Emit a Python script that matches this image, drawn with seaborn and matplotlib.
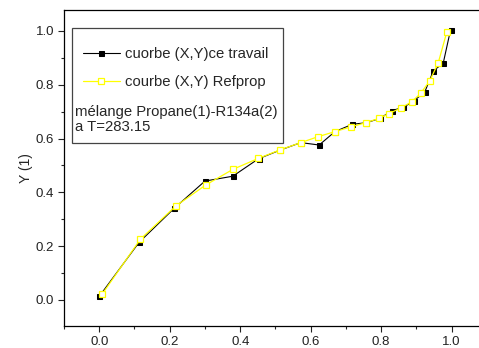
import pandas as pd
import matplotlib
matplotlib.use("Agg")
import matplotlib.pyplot as plt
import seaborn as sns
from matplotlib.ticker import MultipleLocator
from matplotlib.patches import Rectangle

# Data
x_travail = [0.0, 0.113, 0.213, 0.300, 0.379, 0.452, 0.513, 0.572, 0.624, 0.669,
             0.718, 0.758, 0.797, 0.830, 0.863, 0.893, 0.924, 0.948, 0.976, 0.997]
y_travail = [0.013, 0.214, 0.341, 0.442, 0.460, 0.525, 0.557, 0.585, 0.576, 0.626,
             0.653, 0.659, 0.675, 0.704, 0.716, 0.740, 0.774, 0.852, 0.880, 1.005]

x_refprop = [0.008, 0.117, 0.217, 0.303, 0.380, 0.451, 0.513, 0.572, 0.621, 0.669,
             0.713, 0.756, 0.794, 0.822, 0.855, 0.887, 0.912, 0.938, 0.962, 0.986]
y_refprop = [0.021, 0.226, 0.349, 0.428, 0.486, 0.526, 0.558, 0.585, 0.607, 0.626,
             0.643, 0.659, 0.675, 0.693, 0.713, 0.737, 0.768, 0.815, 0.882, 0.995]

label_travail = "cuorbe (X,Y)ce travail"
label_refprop = "courbe (X,Y) Refprop"
note = "mélange Propane(1)-R134a(2)\na T=283.15"

df_t = pd.DataFrame({"x": x_travail, "y": y_travail})
df_r = pd.DataFrame({"x": x_refprop, "y": y_refprop})

sns.set_style("ticks")
plt.rcParams["font.family"] = ["Liberation Sans", "DejaVu Sans"]

fig = plt.figure(figsize=(4.79, 3.48), dpi=100)
ax = fig.add_axes([0.1336, 0.0632, 0.8829, 0.908])

sns.lineplot(data=df_t, x="x", y="y", sort=False, ax=ax, color="black",
             linewidth=0.8, marker="s", markersize=3.6, markerfacecolor="black",
             markeredgecolor="black", label=label_travail)
sns.lineplot(data=df_r, x="x", y="y", sort=False, ax=ax, color="#ffff00",
             linewidth=0.9, marker="s", markersize=3.8, markerfacecolor="white",
             markeredgecolor="#ffff00", markeredgewidth=0.9, label=label_refprop)

ax.set_xlim(-0.1, 1.1)
ax.set_ylim(-0.097, 1.078)
ax.xaxis.set_major_locator(MultipleLocator(0.2))
ax.xaxis.set_minor_locator(MultipleLocator(0.1))
ax.yaxis.set_major_locator(MultipleLocator(0.2))
ax.yaxis.set_minor_locator(MultipleLocator(0.1))
ax.xaxis.set_major_formatter(plt.FormatStrFormatter("%.1f"))
ax.yaxis.set_major_formatter(plt.FormatStrFormatter("%.1f"))
ax.tick_params(which="major", direction="out", length=4, width=0.8, labelsize=9.5,
               colors="#222222", pad=3)
ax.tick_params(which="minor", direction="out", length=2.5, width=0.8)
ax.tick_params(axis="x", pad=3)
for sp in ax.spines.values():
    sp.set_visible(True)
    sp.set_linewidth(0.9)
    sp.set_color("black")

ax.set_xlabel("")
ax.set_ylabel("Y (1)", fontsize=10, labelpad=2)

# Legend box with note
ax.add_patch(Rectangle((0.018, 0.580), 0.5006, 0.362, transform=ax.transAxes,
                       fill=True, facecolor="white", edgecolor="#444444",
                       linewidth=0.9, zorder=5))
leg = ax.legend(loc="upper left", bbox_to_anchor=(0.044, 0.882), frameon=False,
                fontsize=10.7, handlelength=2.5, handletextpad=0.35,
                labelspacing=0.95, borderpad=0, borderaxespad=0)
leg.set_zorder(6)
ax.text(0.026, 0.653, note, transform=ax.transAxes, fontsize=10.7,
        va="center", ha="left", linespacing=1.1, zorder=7)

fig.savefig("out.png", dpi=100)
